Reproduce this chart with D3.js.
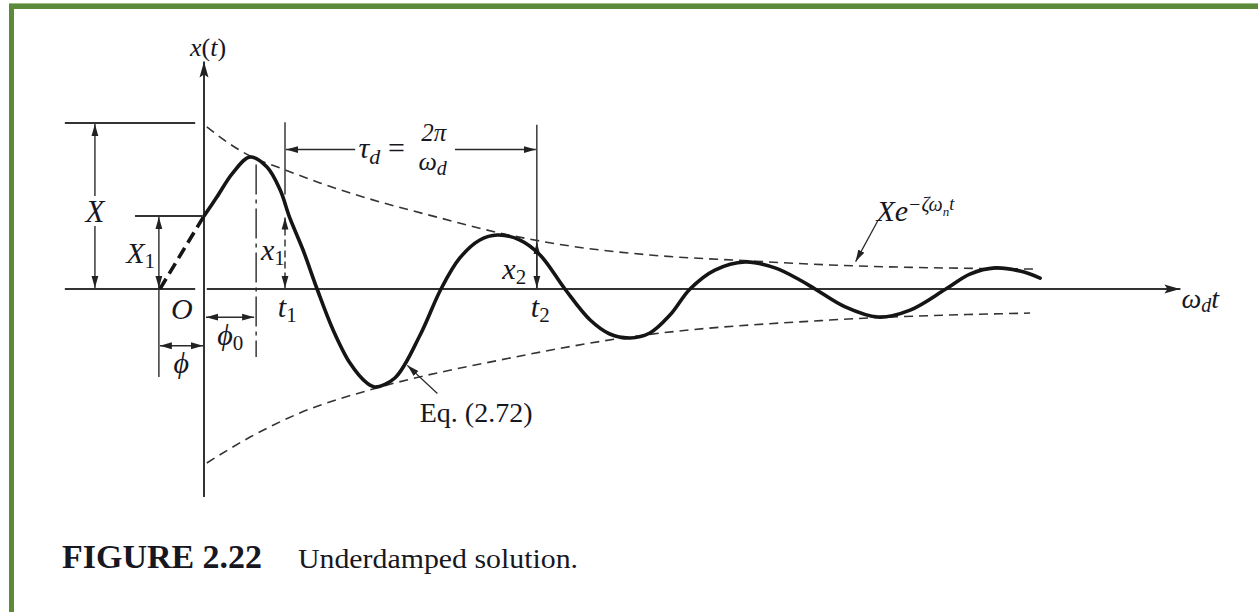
<!DOCTYPE html>
<html><head><meta charset="utf-8">
<script src="https://cdn.jsdelivr.net/npm/d3@7"></script>
<style>
html,body{margin:0;padding:0;background:#fff;}
svg{display:block;}
text{font-family:"Liberation Serif","Times New Roman",serif;fill:#17171f;}
.it{font-style:italic;}
</style></head><body>
<svg id="chart" width="1258" height="612"></svg>
<script>
// Damped response x(t)/X sampled against ωd·t (radians)
const responseWt = [0, 0.32, 0.72, 1.15, 1.57, 1.90, 2.14, 2.47, 2.82, 3.22, 3.64, 4.06, 4.26, 4.76, 5.39, 5.91, 6.38, 6.88, 7.31, 7.88, 8.38, 9.00, 9.63, 10.12, 10.62, 11.12, 11.62, 12.12, 12.74, 13.49, 14.24, 14.86, 15.24, 15.99, 16.81, 17.61, 18.50, 19.10, 19.73, 20.35, 20.85];
const responseX  = [0.44, 0.554, 0.70, 0.795, 0.735, 0.596, 0.428, 0.235, 0, -0.247, -0.446, -0.566, -0.590, -0.536, -0.277, 0, 0.187, 0.295, 0.325, 0.295, 0.205, 0, -0.187, -0.271, -0.295, -0.265, -0.157, 0, 0.114, 0.163, 0.127, 0.054, 0, -0.108, -0.169, -0.127, 0, 0.090, 0.127, 0.108, 0.066];

// Backward extension of the response to its zero crossing (t < 0)
const extensionWt = [-1.10, 0];
const extensionX  = [0, 0.44];

// Decay envelopes  ±X e^{-ζωn t}
const upperEnvWt = [0.07, 0.65, 1.15, 1.90, 2.89, 4.14, 5.89, 7.38, 9.13, 11.12, 13.62, 15.61, 20.77];
const upperEnvX  = [0.976, 0.873, 0.801, 0.729, 0.639, 0.542, 0.428, 0.337, 0.259, 0.205, 0.169, 0.145, 0.120];
const lowerEnvWt = [0.07, 1.15, 2.39, 4.31, 7.38, 10.62, 15.61, 20.60];
const lowerEnvX  = [-1.048, -0.892, -0.747, -0.596, -0.428, -0.289, -0.187, -0.145];

// Characteristic quantities
const amplitudeX = 1.0;   // X
const initialX1 = 0.44;   // X1 = x(0)
const phaseWt = -1.10;    // φ
const peakWt = 1.30;      // φ0
const t1Wt = 2.02, x1Val = 0.43;
const t2Wt = 8.30, x2Val = 0.22;

const svg = d3.select("#chart");
const W = 1258, H = 612;

// frame
svg.append("rect").attr("x", 9).attr("y", 3).attr("width", W - 9).attr("height", 6).attr("fill", "#5d8a3a");
svg.append("rect").attr("x", 9).attr("y", 3).attr("width", 5).attr("height", H - 3).attr("fill", "#5d8a3a");
svg.append("rect").attr("x", 9).attr("y", 3).attr("width", W - 9).attr("height", 1).attr("fill", "#9dbb86");

const x = d3.scaleLinear().domain([0, 24.4]).range([204, 204 + 24.4 * 40.1]);
const y = d3.scaleLinear().domain([0, 1]).range([289, 123]);

const defs = svg.append("defs");
defs.append("marker").attr("id", "ah").attr("viewBox", "0 0 12 8")
  .attr("refX", 12).attr("refY", 4).attr("markerWidth", 12).attr("markerHeight", 8)
  .attr("markerUnits", "userSpaceOnUse").attr("orient", "auto-start-reverse")
  .append("path").attr("d", "M0,0.6 L12,4 L0,7.4 Z").attr("fill", "#222");
defs.append("marker").attr("id", "axh").attr("viewBox", "0 0 16 10")
  .attr("refX", 16).attr("refY", 5).attr("markerWidth", 16).attr("markerHeight", 10)
  .attr("markerUnits", "userSpaceOnUse").attr("orient", "auto-start-reverse")
  .append("path").attr("d", "M0,0.5 L16,5 L0,9.5 L3,5 Z").attr("fill", "#222");

const g = svg.append("g");
function seg(x1, y1, x2, y2, opts = {}) {
  const l = g.append("line").attr("x1", x1).attr("y1", y1).attr("x2", x2).attr("y2", y2)
    .attr("stroke", opts.color || "#2a2a2a").attr("stroke-width", opts.w || 1.4);
  if (opts.dash) l.attr("stroke-dasharray", opts.dash);
  if (opts.start) l.attr("marker-start", "url(#ah)");
  if (opts.end) l.attr("marker-end", "url(#" + (opts.end === true ? "ah" : opts.end) + ")");
  return l;
}

// axes
seg(x(-3.47), y(0), x(-0.22), y(0), { w: 2, color: "#333" });
seg(x(0.07), y(0), x(24.35), y(0), { w: 2, color: "#333", end: "axh" });
seg(x(0), y(-1.253), x(0), y(1.37), { w: 2, color: "#333", end: "axh" });

// reference lines for X and X1
seg(x(-3.47), y(amplitudeX), x(-0.22), y(amplitudeX), { w: 2, color: "#333" });
seg(x(-1.72), y(initialX1), x(-0.05), y(initialX1), { w: 2, color: "#333" });

// X dimension (broken around its label)
seg(x(-2.72), y(amplitudeX) + 1, x(-2.72), y(0.56), { start: true });
seg(x(-2.72), y(0.38), x(-2.72), y(0) - 1, { end: true });
// X1 dimension and φ extension line
seg(x(phaseWt) - 1, y(initialX1) + 1, x(phaseWt) - 1, y(0) - 1, { start: true, end: true });
seg(x(phaseWt) - 1, y(0), x(phaseWt) - 1, y(-0.53), { w: 1.4 });
// φ dimension
seg(x(phaseWt), y(-0.342), x(0) - 1, y(-0.342), { start: true, end: true });
// φ0 dash-dot and dimension
seg(x(peakWt), y(0.75), x(peakWt), y(-0.41), { dash: "30,5,4,5" });
seg(x(0) + 2, y(-0.17), x(peakWt) - 2, y(-0.17), { start: true, end: true });

// t1 extension and x1 dimension
seg(x(t1Wt), y(1.005), x(t1Wt), y(0.57));
seg(x(t1Wt), y(x1Val), x(t1Wt), y(0) - 1, { dash: "7,4", start: true, end: true });
// t2 extension and x2 dimension
seg(x(t2Wt), y(0.99), x(t2Wt), y(0));
seg(x(t2Wt), y(x2Val) - 10, x(t2Wt), y(0) - 1, { start: true, end: true });
// τd dimension (broken around its label)
seg(x(t1Wt) + 1, y(0.84), x(3.77), y(0.84), { start: true });
seg(x(6.26), y(0.84), x(t2Wt) - 1, y(0.84), { end: true });

// envelopes
const line = d3.line().x(d => x(d[0])).y(d => y(d[1])).curve(d3.curveMonotoneX);
g.append("path").attr("d", line(d3.zip(upperEnvWt, upperEnvX)))
  .attr("fill", "none").attr("stroke", "#333").attr("stroke-width", 1.6).attr("stroke-dasharray", "9,6");
g.append("path").attr("d", line(d3.zip(lowerEnvWt, lowerEnvX)))
  .attr("fill", "none").attr("stroke", "#333").attr("stroke-width", 1.6).attr("stroke-dasharray", "9,6");

// response
const smooth = d3.line().x(d => x(d[0])).y(d => y(d[1])).curve(d3.curveCatmullRom.alpha(0.5));
g.append("path").attr("d", line(d3.zip(extensionWt, extensionX)))
  .attr("fill", "none").attr("stroke", "#151515").attr("stroke-width", 3.6).attr("stroke-dasharray", "12,6");
g.append("path").attr("d", smooth(d3.zip(responseWt, responseX)))
  .attr("fill", "none").attr("stroke", "#151515").attr("stroke-width", 3.6).attr("stroke-linecap", "round");

// leader arrows
seg(x(16.8), y(0.41), x(16.25), y(0.165), { end: true, w: 1.3 });
seg(x(5.82), y(-0.63), x(5.07), y(-0.46), { end: true, w: 1.3 });

// labels
function label(px, py, parts, anchor = "start") {
  const t = svg.append("text").attr("x", px).attr("y", py).attr("text-anchor", anchor);
  let shift = 0;
  parts.forEach(p => {
    const s = t.append("tspan").text(p.t).attr("font-size", p.s || 30);
    if (p.i) s.attr("class", "it");
    const dy = (p.dy || 0) - shift;
    if (dy) s.attr("dy", dy);
    shift = p.dy || 0;
  });
  return t;
}
label(x(0) + 4, 56, [{ t: "x", i: 1, s: 26 }, { t: "(", s: 26 }, { t: "t", i: 1, s: 26 }, { t: ")", s: 26 }], "middle");
label(x(-2.72), y(0.47) + 11, [{ t: "X", i: 1, s: 31 }], "middle");
label(x(-1.94), 263, [{ t: "X", i: 1, s: 30 }, { t: "1", s: 21, dy: 5 }]);
label(x(-0.55), 319, [{ t: "O", i: 1, s: 30 }], "middle");
label(x(-0.57), 373, [{ t: "ϕ", i: 1, s: 30 }], "middle");
label(x(0.33), 345, [{ t: "ϕ", i: 1, s: 30 }, { t: "0", s: 21, dy: 5 }]);
label(x(1.42), 260, [{ t: "x", i: 1, s: 30 }, { t: "1", s: 21, dy: 5 }]);
label(x(1.84), 317, [{ t: "t", i: 1, s: 30 }, { t: "1", s: 21, dy: 5 }]);
label(x(7.44), 279, [{ t: "x", i: 1, s: 30 }, { t: "2", s: 21, dy: 5 }]);
label(x(8.15), 317, [{ t: "t", i: 1, s: 30 }, { t: "2", s: 21, dy: 5 }]);
label(x(3.85), 158, [{ t: "τ", i: 1, s: 30 }, { t: "d", i: 1, s: 22, dy: 6 }]);
label(x(4.59), 158, [{ t: "=", s: 30 }]);
label(x(5.73), 141, [{ t: "2π", i: 1, s: 25 }], "middle");
label(x(5.70), 170, [{ t: "ω", i: 1, s: 26 }, { t: "d", i: 1, s: 20, dy: 5 }], "middle");
label(x(16.77), 221, [{ t: "Xe", i: 1, s: 30 }, { t: "−ζω", i: 1, s: 20, dy: -10 }, { t: "n", i: 1, s: 13, dy: -5 }, { t: "t", i: 1, s: 18, dy: -11 }]);
label(x(5.38), 422, [{ t: "Eq. (2.72)", s: 28 }]);
label(x(24.35) + 1, 308, [{ t: "ω", i: 1, s: 28 }, { t: "d", i: 1, s: 20, dy: 4 }, { t: "t", i: 1, s: 28, dy: 0 }]);

// caption
svg.append("text").attr("x", 62).attr("y", 568).attr("font-size", 33).attr("font-weight", "bold")
  .attr("textLength", 200).attr("lengthAdjust", "spacingAndGlyphs").text("FIGURE 2.22");
svg.append("text").attr("x", 298).attr("y", 568).attr("font-size", 28)
  .attr("textLength", 280).attr("lengthAdjust", "spacingAndGlyphs").text("Underdamped solution.");
</script>
</body></html>
